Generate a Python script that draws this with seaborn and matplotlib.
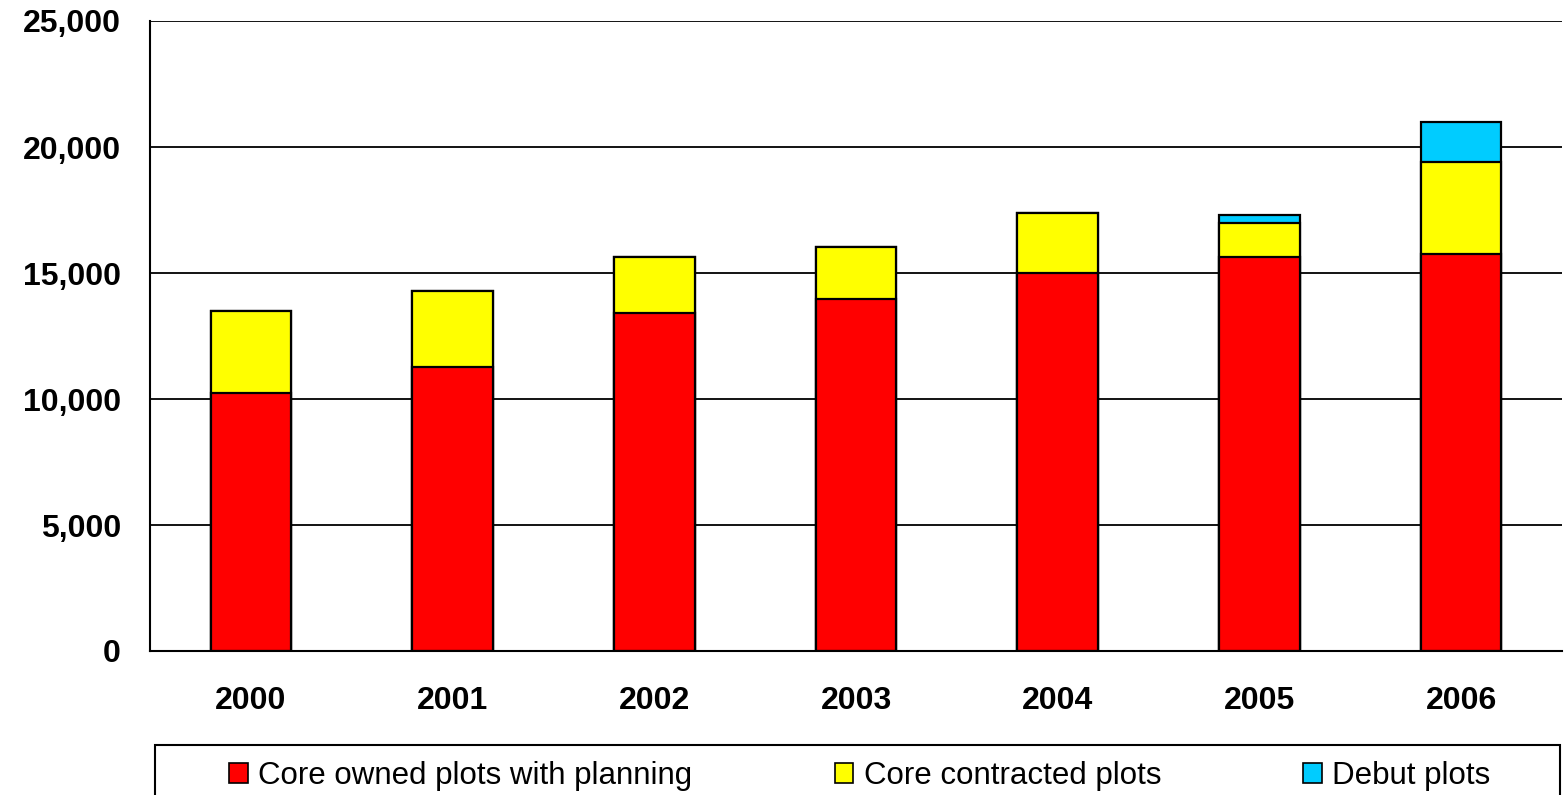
import numpy as np
import pandas as pd
import matplotlib
matplotlib.use("Agg")
import matplotlib.pyplot as plt
import seaborn as sns
from matplotlib.patches import Patch, Rectangle

years = ["2000", "2001", "2002", "2003", "2004", "2005", "2006"]
core_owned = [10250, 11270, 13400, 13960, 15000, 15620, 15760]
core_contracted = [3240, 3020, 2220, 2060, 2380, 1350, 3660]
debut = [0, 0, 0, 0, 0, 330, 1580]
series_names = ["Core owned plots with planning", "Core contracted plots", "Debut plots"]
series_colors = ["#FF0000", "#FFFF00", "#00CCFF"]
y_ticks = [0, 5000, 10000, 15000, 20000, 25000]

sns.set_style("white")
plt.rcParams["font.family"] = ["Liberation Sans", "DejaVu Sans"]
plt.rcParams["text.color"] = "black"
plt.rcParams["xtick.color"] = "black"
plt.rcParams["ytick.color"] = "black"
plt.rcParams["axes.labelcolor"] = "black"

df = pd.DataFrame({"year": years,
                   "owned": core_owned,
                   "contracted": core_contracted,
                   "debut": debut})
df["lvl1"] = df["owned"]
df["lvl2"] = df["owned"] + df["contracted"]
df["lvl3"] = df["lvl2"] + df["debut"]

W, H = 1564, 795
fig = plt.figure(figsize=(W / 100, H / 100), dpi=100)
ax = fig.add_axes([150 / W, 1 - 651 / H, 1412 / W, 630 / H])

ax.yaxis.grid(True, color="#000000", linewidth=1.3, zorder=0)
ax.set_axisbelow(True)

for col, color in zip(["lvl3", "lvl2", "lvl1"], series_colors[::-1]):
    sns.barplot(data=df, x="year", y=col, color=color, width=0.4,
                edgecolor="black", linewidth=1.6, saturation=1, ax=ax,
                zorder=3)

ax.set_xlim(-0.5, len(years) - 0.5)
ax.set_ylim(0, 25000)
ax.set_yticks(y_ticks)
ax.set_yticklabels([f"{v:,}" for v in y_ticks])
ax.set_xlabel("")
ax.set_ylabel("")

for side in ["top", "right"]:
    ax.spines[side].set_visible(False)
for side in ["left", "bottom"]:
    ax.spines[side].set_color("black")
    ax.spines[side].set_linewidth(1.5)
    ax.spines[side].set_zorder(4)

ax.tick_params(axis="y", direction="out", length=8, width=1.3, color="black",
               labelcolor="black", pad=13, labelsize=23)
ax.tick_params(axis="x", which="major", length=0, pad=25, labelsize=23,
               labelcolor="black")
ax.set_xticks(np.arange(-0.5, len(years), 1.0), minor=True)
ax.tick_params(axis="x", which="minor", direction="out", length=8, width=1.3,
               color="black")
for lbl in ax.get_xticklabels() + ax.get_yticklabels():
    lbl.set_fontweight("bold")
    lbl.set_color("black")

# legend frame (extends below figure edge)
frame = Rectangle((155 / W, -20 / H), 1405 / W, 70 / H, transform=fig.transFigure,
                  facecolor="white", edgecolor="black", linewidth=1.5,
                  clip_on=False)
fig.add_artist(frame)
handles = [Patch(facecolor=c, edgecolor="black", linewidth=1.2) for c in series_colors]
leg = fig.legend(handles, series_names, loc="center", ncol=3,
                 bbox_to_anchor=(860 / W, 19 / H), frameon=False,
                 fontsize=22.5, handlelength=0.6, handleheight=0.6,
                 handletextpad=0.33, columnspacing=4.55, borderpad=0)
for t in leg.get_texts():
    t.set_color("black")

fig.savefig("out.png", dpi=100)
